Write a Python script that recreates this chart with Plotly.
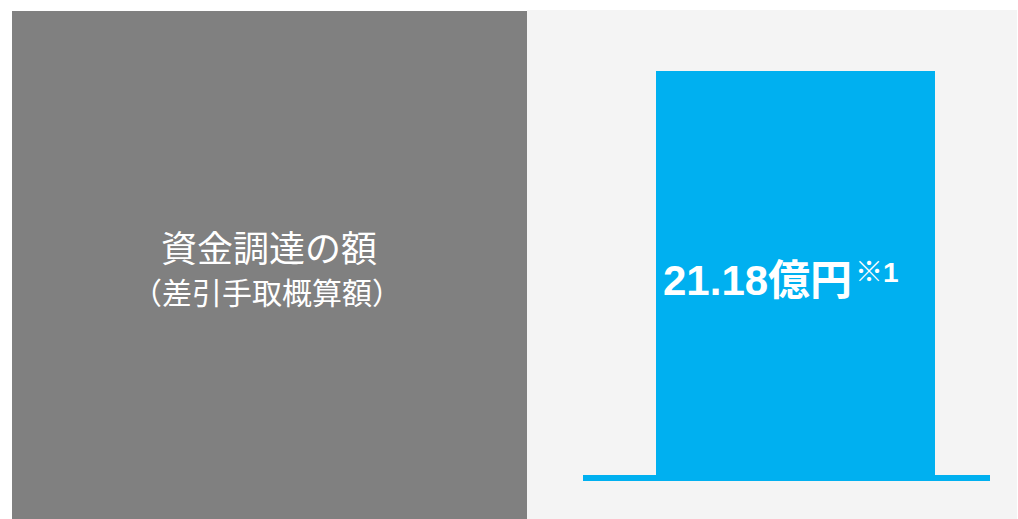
import plotly.graph_objects as go

# ---- data ----
categories = ["資金調達の額（差引手取概算額）"]
values = [21.18]
label_main = "21.18億円"
label_note = "※1"
title_line1 = "資金調達の額"
title_line2 = "（差引手取概算額）"

W, H = 1018, 519
BLUE = "#00b0f0"


def px(x):
    return x / W


def py(y):
    return (H - y) / H


# pixel layout (page coordinates)
plot_l, plot_r = 583, 990
plot_top, plot_base = 11, 478
bar_top_px = 71
bar_l, bar_r = 656, 935

xspan = plot_r - plot_l
bar_center = (bar_l + bar_r) / 2
x0 = -(bar_center - plot_l) / xspan
xrange_ = [x0, x0 + 1]
yrange_top = values[0] * (plot_base - plot_top) / (plot_base - bar_top_px)

fig = go.Figure()
fig.add_trace(go.Bar(
    x=categories, y=values, width=(bar_r - bar_l) / xspan,
    marker=dict(color=BLUE, line=dict(width=0)),
    hoverinfo="skip", showlegend=False,
))

shapes = [
    dict(type="rect", xref="paper", yref="paper",
         x0=px(12), x1=px(527), y0=py(519), y1=py(11),
         fillcolor="#808080", line=dict(width=0), layer="below"),
    dict(type="rect", xref="paper", yref="paper",
         x0=px(527), x1=px(1017), y0=py(519), y1=py(10),
         fillcolor="#f4f4f4", line=dict(width=0), layer="below"),
    dict(type="line", xref="paper", yref="paper",
         x0=px(plot_l), x1=px(plot_r), y0=py(478), y1=py(478),
         line=dict(color=BLUE, width=6), layer="above"),
]

annotations = [
    dict(xref="paper", yref="paper", x=px(269), y=py(245.5),
         text=title_line1, showarrow=False, xanchor="center", yanchor="middle",
         font=dict(family="Noto Sans CJK JP", size=36, color="white")),
    dict(xref="paper", yref="paper", x=px(267), y=py(291),
         text=title_line2, showarrow=False, xanchor="center", yanchor="middle",
         font=dict(family="Noto Sans CJK JP", size=30, color="white")),
    dict(xref="paper", yref="paper", x=px(661), y=py(280),
         text=f"<b>{label_main}</b>", showarrow=False,
         xanchor="left", yanchor="middle",
         font=dict(family="Liberation Sans, Noto Sans CJK JP", size=42, color="white")),
    dict(xref="paper", yref="paper", x=px(853), y=py(272),
         text=f"<b>{label_note}</b>", showarrow=False,
         xanchor="left", yanchor="middle",
         font=dict(family="Liberation Sans, Noto Sans CJK JP", size=28, color="white")),
]

fig.update_layout(
    width=W, height=H,
    margin=dict(l=0, r=0, t=0, b=0),
    paper_bgcolor="white", plot_bgcolor="rgba(0,0,0,0)",
    xaxis=dict(domain=[px(plot_l), px(plot_r)], range=xrange_, visible=False, fixedrange=True),
    yaxis=dict(domain=[py(plot_base), py(plot_top)], range=[0, yrange_top],
               visible=False, fixedrange=True),
    shapes=shapes, annotations=annotations,
    bargap=0,
)

fig.write_html(
    "out.html",
    config={"displayModeBar": False},
    post_script="document.body.style.margin='0';"
                "document.documentElement.style.overflow='hidden';"
                "document.body.style.overflow='hidden';",
)
